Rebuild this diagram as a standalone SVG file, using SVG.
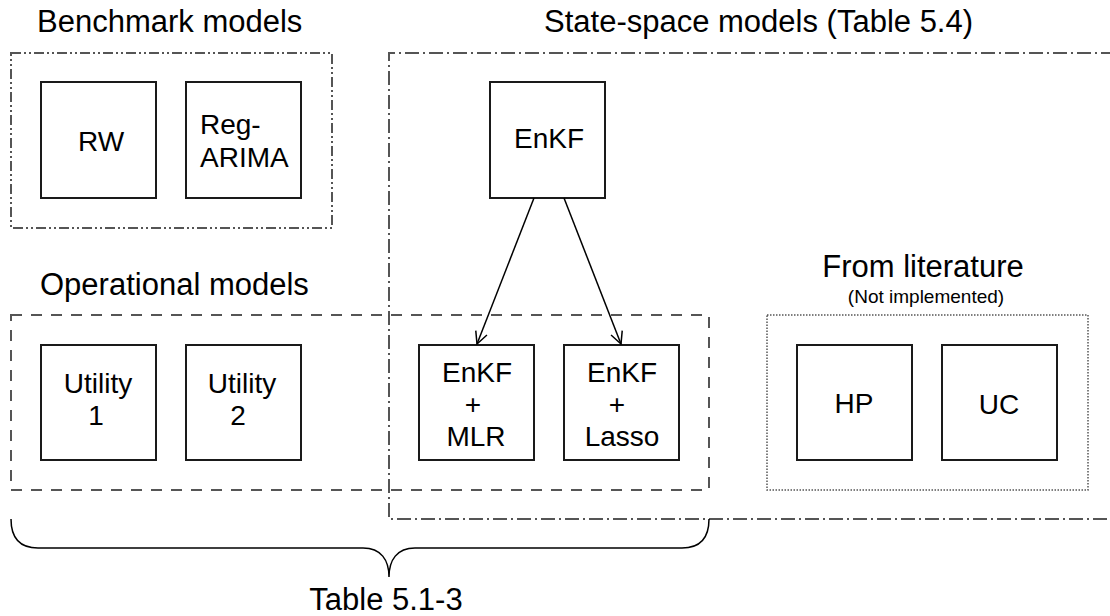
<svg xmlns="http://www.w3.org/2000/svg" width="1110" height="616" viewBox="0 0 1110 616">
<defs>
<style>
text{font-family:"Liberation Sans",Arial,sans-serif;fill:#000}
.title{font-size:31px}
.lbl{font-size:28px;text-anchor:middle}
.node{fill:#fff;stroke:#1a1a1a;stroke-width:2}
.grp{fill:none;stroke:#555;stroke-width:2}
.ddot{stroke-dasharray:10 3 2 3 2 3}
.dash1{stroke-dasharray:14 4 2 4}
.dashed{stroke-dasharray:11 9}
.dotted{stroke-dasharray:1.5 1.5;stroke-width:1.5}
.conn{fill:none;stroke:#000;stroke-width:1.5}
</style>
<marker id="arr" viewBox="0 0 14 14" refX="13" refY="7" markerWidth="14" markerHeight="14" markerUnits="userSpaceOnUse" orient="auto">
<path d="M1,1 L13,7 L1,13" fill="none" stroke="#000" stroke-width="1.5"/>
</marker>
</defs>
<rect width="1110" height="616" fill="#fff"/>

<g id="groups">
<rect class="grp ddot" x="11" y="53" width="321" height="175"/>
<path class="grp dash1" d="M1115,53 H389 V519 H1115"/>
<rect class="grp dashed" x="11" y="315" width="698" height="175"/>
<rect class="grp dotted" x="767" y="315" width="321" height="175"/>
</g>

<g id="titles">
<text class="title" x="37" y="32">Benchmark models</text>
<text class="title" x="544" y="32">State-space models (Table 5.4)</text>
<text class="title" x="40" y="295">Operational models</text>
<text class="title" x="923" y="277" text-anchor="middle">From literature</text>
<text x="926" y="303" font-size="19" text-anchor="middle">(Not implemented)</text>
</g>

<g id="node-rw"><rect class="node" x="41" y="82" width="115" height="116"/><text class="lbl" x="101" y="151">RW</text></g>
<g id="node-regarima"><rect class="node" x="186" y="82" width="115" height="116"/><text font-size="28" x="200" y="134">Reg-</text><text font-size="28" x="200" y="167">ARIMA</text></g>
<g id="node-enkf"><rect class="node" x="490" y="82" width="115" height="116"/><text class="lbl" x="549" y="148">EnKF</text></g>
<g id="node-utility1"><rect class="node" x="41" y="345" width="115" height="115"/><text class="lbl" x="98" y="393">Utility</text><text class="lbl" x="96" y="425">1</text></g>
<g id="node-utility2"><rect class="node" x="186" y="345" width="115" height="115"/><text class="lbl" x="242" y="393">Utility</text><text class="lbl" x="238" y="425">2</text></g>
<g id="node-enkf-mlr"><rect class="node" x="419" y="345" width="115" height="115"/><text class="lbl" x="477" y="382">EnKF</text><text class="lbl" x="473" y="414">+</text><text class="lbl" x="476" y="446">MLR</text></g>
<g id="node-enkf-lasso"><rect class="node" x="564" y="345" width="115" height="115"/><text class="lbl" x="622" y="382">EnKF</text><text class="lbl" x="617" y="414">+</text><text class="lbl" x="622" y="446">Lasso</text></g>
<g id="node-hp"><rect class="node" x="797" y="345" width="115" height="115"/><text class="lbl" x="854" y="413">HP</text></g>
<g id="node-uc"><rect class="node" x="942" y="345" width="115" height="115"/><text class="lbl" x="999" y="414">UC</text></g>

<g id="connectors">
<line class="conn" x1="534" y1="198" x2="477" y2="344" marker-end="url(#arr)"/>
<line class="conn" x1="564" y1="198" x2="621" y2="344" marker-end="url(#arr)"/>
<path class="conn" d="M11,519 Q11,548 38,548 L363,548 C381,548 389,560 389,577 C389,560 397,548 415,548 L682,548 Q709,548 709,519"/>
</g>
<text x="386" y="610" font-size="31" text-anchor="middle">Table 5.1-3</text>
</svg>
